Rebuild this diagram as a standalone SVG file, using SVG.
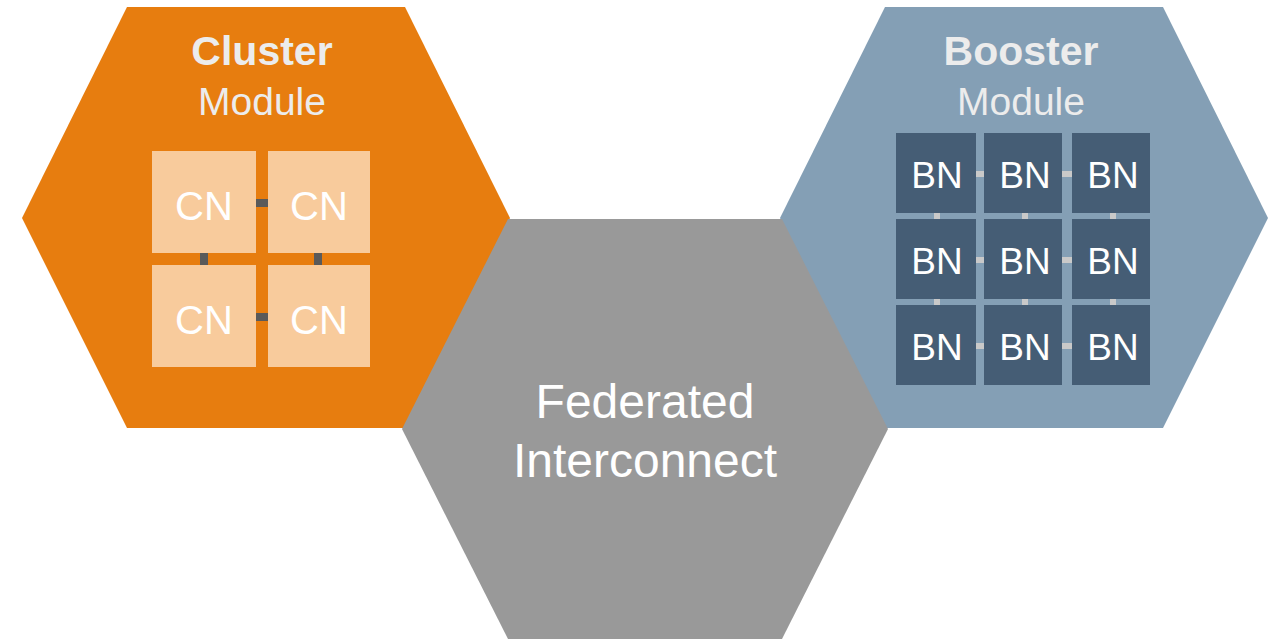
<svg xmlns="http://www.w3.org/2000/svg" width="1271" height="639" viewBox="0 0 1271 639">
  <style>
    .title { font-family: "Liberation Sans", Arial, sans-serif; font-weight: bold; font-size: 41px; fill: #ececec; text-anchor: middle; }
    .sub { font-family: "Liberation Sans", Arial, sans-serif; font-size: 39px; fill: #ececec; text-anchor: middle; }
    .cn { fill: #f8cb9c; }
    .bn { fill: #455d75; }
    .lbl { font-family: "Liberation Sans", Arial, sans-serif; fill: #ffffff; text-anchor: middle; }
    .cnl { font-size: 40px; }
    .bnl { font-size: 37px; }
    .fed { font-family: "Liberation Sans", Arial, sans-serif; font-size: 48px; fill: #ffffff; text-anchor: middle; }
    .clink { fill: #5a5a5a; }
    .blink { fill: #c9c9c9; }
  </style>
  <rect width="1271" height="639" fill="#ffffff"/>

  <!-- Cluster module -->
  <g id="cluster-module">
    <polygon points="22,218 127,7 405,7 510,218 405,428 127,428" fill="#e77d0f"/>
    <text class="title" x="262" y="65">Cluster</text>
    <text class="sub" x="262" y="115">Module</text>
  </g>

  <!-- Booster module -->
  <g id="booster-module">
    <polygon points="780,218 885,7 1163,7 1268,218 1163,428 885,428" fill="#849fb5"/>
    <text class="title" x="1021" y="65">Booster</text>
    <text class="sub" x="1021" y="115">Module</text>
  </g>

  <!-- Federated interconnect -->
  <g id="federated-interconnect">
    <polygon points="402,429 508,219 782,219 888,429 782,639 508,639" fill="#999999"/>
    <text class="fed" x="645" y="418">Federated</text>
    <text class="fed" x="645" y="477">Interconnect</text>
  </g>

  <!-- Links between nodes -->
  <g id="connectors">
    <rect class="clink" x="256" y="199" width="12" height="8"/>
    <rect class="clink" x="256" y="313" width="12" height="8"/>
    <rect class="clink" x="200" y="253" width="8" height="12"/>
    <rect class="clink" x="314" y="253" width="8" height="12"/>

    <rect class="blink" x="976" y="171" width="8" height="6"/>
    <rect class="blink" x="1062" y="171" width="10" height="6"/>
    <rect class="blink" x="976" y="257" width="8" height="6"/>
    <rect class="blink" x="1062" y="257" width="10" height="6"/>
    <rect class="blink" x="976" y="343" width="8" height="6"/>
    <rect class="blink" x="1062" y="343" width="10" height="6"/>
    <rect class="blink" x="934" y="213" width="6" height="6"/>
    <rect class="blink" x="1022" y="213" width="6" height="6"/>
    <rect class="blink" x="1110" y="213" width="6" height="6"/>
    <rect class="blink" x="934" y="299" width="6" height="6"/>
    <rect class="blink" x="1022" y="299" width="6" height="6"/>
    <rect class="blink" x="1110" y="299" width="6" height="6"/>
  </g>

  <!-- Cluster nodes -->
  <g id="cn-1"><rect class="cn" x="152" y="151" width="104" height="102"/><text class="lbl cnl" x="204" y="220">CN</text></g>
  <g id="cn-2"><rect class="cn" x="268" y="151" width="102" height="102"/><text class="lbl cnl" x="319" y="220">CN</text></g>
  <g id="cn-3"><rect class="cn" x="152" y="265" width="104" height="102"/><text class="lbl cnl" x="204" y="334">CN</text></g>
  <g id="cn-4"><rect class="cn" x="268" y="265" width="102" height="102"/><text class="lbl cnl" x="319" y="334">CN</text></g>

  <!-- Booster nodes -->
  <g id="bn-1"><rect class="bn" x="896" y="133" width="80" height="80"/><text class="lbl bnl" x="937" y="188">BN</text></g>
  <g id="bn-2"><rect class="bn" x="984" y="133" width="78" height="80"/><text class="lbl bnl" x="1025" y="188">BN</text></g>
  <g id="bn-3"><rect class="bn" x="1072" y="133" width="78" height="80"/><text class="lbl bnl" x="1113" y="188">BN</text></g>
  <g id="bn-4"><rect class="bn" x="896" y="219" width="80" height="80"/><text class="lbl bnl" x="937" y="274">BN</text></g>
  <g id="bn-5"><rect class="bn" x="984" y="219" width="78" height="80"/><text class="lbl bnl" x="1025" y="274">BN</text></g>
  <g id="bn-6"><rect class="bn" x="1072" y="219" width="78" height="80"/><text class="lbl bnl" x="1113" y="274">BN</text></g>
  <g id="bn-7"><rect class="bn" x="896" y="305" width="80" height="80"/><text class="lbl bnl" x="937" y="360">BN</text></g>
  <g id="bn-8"><rect class="bn" x="984" y="305" width="78" height="80"/><text class="lbl bnl" x="1025" y="360">BN</text></g>
  <g id="bn-9"><rect class="bn" x="1072" y="305" width="78" height="80"/><text class="lbl bnl" x="1113" y="360">BN</text></g>
</svg>
